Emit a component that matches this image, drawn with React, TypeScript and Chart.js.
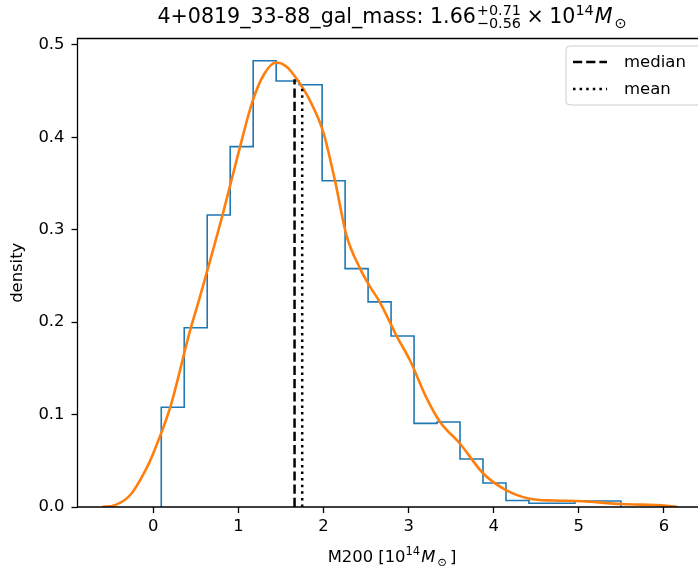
import React, { useEffect, useRef } from "react";
import { Chart, registerables } from "chart.js";
Chart.register(...registerables);

// ---- data ----
const binEdges = [0.094, 0.364, 0.634, 0.904, 1.174, 1.444, 1.714, 1.984, 2.254, 2.524, 2.794, 3.064, 3.334, 3.604, 3.874, 4.144, 4.414, 4.684, 4.954, 5.224, 5.494];
const binDensity = [0.108, 0.194, 0.316, 0.39, 0.483, 0.461, 0.457, 0.353, 0.258, 0.222, 0.185, 0.0905, 0.092, 0.052, 0.026, 0.007, 0.004, 0.004, 0.0065, 0.0065];
const kdeX = [-0.6, -0.45, -0.27, -0.09, 0.0, 0.2, 0.43, 0.55, 0.82, 1.02, 1.17, 1.3, 1.44, 1.56, 1.68, 1.84, 2.0, 2.14, 2.27, 2.43, 2.55, 2.66, 2.86, 3.02, 3.2, 3.37, 3.6, 3.88, 4.15, 4.42, 4.7, 4.98, 5.5, 6.03, 6.16];
const kdeY = [0.0, 0.002, 0.013, 0.04, 0.058, 0.108, 0.19, 0.228, 0.318, 0.39, 0.44, 0.468, 0.481, 0.477, 0.464, 0.44, 0.405, 0.351, 0.294, 0.258, 0.238, 0.222, 0.185, 0.158, 0.12, 0.092, 0.069, 0.036, 0.018, 0.009, 0.007, 0.0065, 0.0032, 0.0014, 0.0];
const medianValue = 1.66;
const medianTop = 0.463;
const meanValue = 1.75;
const meanTop = 0.457;
const xTicks = [0, 1, 2, 3, 4, 5, 6];
const yTicks = [0.0, 0.1, 0.2, 0.3, 0.4, 0.5];
const xRange = [-0.89, 6.4];
const yRange = [0, 0.507];
const legendLabels = ["median", "mean"];
const titleMain = "4+0819_33-88_gal_mass: 1.66";
const titleSup = "+0.71";
const titleSub = "\u22120.56";
const xLabel = ["M200 [10", "14", "M", "\u2299", "]"];
const yLabel = "density";

const FONT = '"DejaVu Sans"';
const BLUE = "#1f77b4";
const ORANGE = "#ff7f0e";

const histPoints: { x: number; y: number }[] = [{ x: binEdges[0], y: 0 }];
binDensity.forEach((d, i) => {
  histPoints.push({ x: binEdges[i], y: d }, { x: binEdges[i + 1], y: d });
});
histPoints.push({ x: binEdges[binEdges.length - 1], y: 0 });
const kdePoints = kdeX.map((x, i) => ({ x, y: kdeY[i] }));

const AXES_CENTER_X = 392;

const customPlugin = {
  id: "customDecor",
  afterDraw(chart: any) {
    const ctx: CanvasRenderingContext2D = chart.ctx;
    const a = chart.chartArea;
    ctx.save();
    // spines
    ctx.strokeStyle = "#000";
    ctx.lineWidth = 1.3;
    ctx.setLineDash([]);
    ctx.beginPath();
    ctx.moveTo(a.right + 5, a.top);
    ctx.lineTo(a.left, a.top);
    ctx.lineTo(a.left, a.bottom);
    ctx.lineTo(a.right + 5, a.bottom);
    ctx.stroke();

    // legend
    const lx = 566, ly = 46, lw = 140, lh = 59, r = 4;
    ctx.beginPath();
    ctx.moveTo(lx + r, ly);
    ctx.lineTo(lx + lw - r, ly);
    ctx.quadraticCurveTo(lx + lw, ly, lx + lw, ly + r);
    ctx.lineTo(lx + lw, ly + lh - r);
    ctx.quadraticCurveTo(lx + lw, ly + lh, lx + lw - r, ly + lh);
    ctx.lineTo(lx + r, ly + lh);
    ctx.quadraticCurveTo(lx, ly + lh, lx, ly + lh - r);
    ctx.lineTo(lx, ly + r);
    ctx.quadraticCurveTo(lx, ly, lx + r, ly);
    ctx.closePath();
    ctx.fillStyle = "rgba(255,255,255,0.8)";
    ctx.fill();
    ctx.strokeStyle = "#cccccc";
    ctx.lineWidth = 1;
    ctx.stroke();

    const rows = [62, 89];
    const dashes = [[9.2, 4], [2.5, 4.1]];
    rows.forEach((yy, i) => {
      ctx.strokeStyle = "#000";
      ctx.lineWidth = 2.5;
      ctx.setLineDash(dashes[i]);
      ctx.beginPath();
      ctx.moveTo(573, yy);
      ctx.lineTo(607, yy);
      ctx.stroke();
      ctx.setLineDash([]);
      ctx.fillStyle = "#000";
      ctx.font = `16.5px ${FONT}`;
      ctx.textAlign = "left";
      ctx.textBaseline = "middle";
      ctx.fillText(legendLabels[i], 624, yy + 1);
    });

    // title
    const F = 20.6, f = 14.4;
    const base = 23;
    ctx.textBaseline = "alphabetic";
    ctx.textAlign = "left";
    ctx.font = `${F}px ${FONT}`;
    const wMain = ctx.measureText(titleMain).width;
    ctx.font = `${f}px ${FONT}`;
    const wSS = Math.max(ctx.measureText(titleSup).width, ctx.measureText(titleSub).width);
    ctx.font = `${F}px ${FONT}`;
    const wTimes = ctx.measureText("\u00d7").width;
    const w10 = ctx.measureText("10").width;
    const gap = 5.5;
    ctx.font = `${f}px ${FONT}`;
    const w14 = ctx.measureText("14").width;
    ctx.font = `italic ${F}px ${FONT}`;
    const wM = ctx.measureText("M").width;
    ctx.font = `${f}px ${FONT}`;
    const wO = ctx.measureText("\u2299").width;
    const total = wMain + 1 + wSS + gap + wTimes + gap + w10 + w14 + 1 + wM + 2 + wO;
    let x = AXES_CENTER_X - total / 2;
    ctx.fillStyle = "#000";
    ctx.font = `${F}px ${FONT}`;
    ctx.fillText(titleMain, x, base);
    x += wMain + 1;
    ctx.font = `${f}px ${FONT}`;
    ctx.fillText(titleSup, x, base - 8);
    ctx.fillText(titleSub, x, base + 4.5);
    x += wSS + gap;
    ctx.font = `${F}px ${FONT}`;
    ctx.fillText("\u00d7", x, base);
    x += wTimes + gap;
    ctx.fillText("10", x, base);
    x += w10;
    ctx.font = `${f}px ${FONT}`;
    ctx.fillText("14", x, base - 8);
    x += w14 + 1;
    ctx.font = `italic ${F}px ${FONT}`;
    ctx.fillText("M", x, base);
    x += wM + 2;
    ctx.font = `${f}px ${FONT}`;
    ctx.fillText("\u2299", x, base + 4.5);

    // x label
    const XF = 16.4, xf = 11.5;
    const xb = 562;
    ctx.font = `${XF}px ${FONT}`;
    const w0 = ctx.measureText(xLabel[0]).width;
    ctx.font = `${xf}px ${FONT}`;
    const w1 = ctx.measureText(xLabel[1]).width;
    ctx.font = `italic ${XF}px ${FONT}`;
    const w2 = ctx.measureText(xLabel[2]).width;
    ctx.font = `${xf}px ${FONT}`;
    const w3 = ctx.measureText(xLabel[3]).width;
    ctx.font = `${XF}px ${FONT}`;
    const w4 = ctx.measureText(xLabel[4]).width;
    const xtot = w0 + w1 + 1 + w2 + 2 + w3 + 3 + w4;
    let xx = AXES_CENTER_X - xtot / 2;
    ctx.font = `${XF}px ${FONT}`;
    ctx.fillText(xLabel[0], xx, xb);
    xx += w0;
    ctx.font = `${xf}px ${FONT}`;
    ctx.fillText(xLabel[1], xx, xb - 7);
    xx += w1 + 1;
    ctx.font = `italic ${XF}px ${FONT}`;
    ctx.fillText(xLabel[2], xx, xb);
    xx += w2 + 2;
    ctx.font = `${xf}px ${FONT}`;
    ctx.fillText(xLabel[3], xx, xb + 4);
    xx += w3 + 3;
    ctx.font = `${XF}px ${FONT}`;
    ctx.fillText(xLabel[4], xx, xb);

    // y label
    ctx.save();
    ctx.translate(18, (a.top + a.bottom) / 2);
    ctx.rotate(-Math.PI / 2);
    ctx.font = `16.4px ${FONT}`;
    ctx.textAlign = "center";
    ctx.textBaseline = "middle";
    ctx.fillText(yLabel, 0, 0);
    ctx.restore();

    ctx.restore();
  },
};

export default function App() {
  const ref = useRef<HTMLCanvasElement | null>(null);
  useEffect(() => {
    if (!ref.current) return;
    const chart = new Chart(ref.current, {
      type: "scatter",
      data: {
        datasets: [
          {
            label: "median",
            data: [{ x: medianValue, y: 0 }, { x: medianValue, y: medianTop }],
            showLine: true,
            borderColor: "#000",
            borderWidth: 2.5,
            borderDash: [9.2, 4],
            pointRadius: 0,
            order: 0,
          },
          {
            label: "mean",
            data: [{ x: meanValue, y: 0 }, { x: meanValue, y: meanTop }],
            showLine: true,
            borderColor: "#000",
            borderWidth: 2.5,
            borderDash: [2.5, 4.1],
            pointRadius: 0,
            order: 0,
          },
          {
            label: "kde",
            data: kdePoints,
            showLine: true,
            borderColor: ORANGE,
            borderWidth: 2.6,
            pointRadius: 0,
            cubicInterpolationMode: "monotone",
            order: 1,
          },
          {
            label: "hist",
            data: histPoints,
            showLine: true,
            borderColor: BLUE,
            borderWidth: 1.6,
            pointRadius: 0,
            tension: 0,
            order: 2,
          },
        ],
      },
      options: {
        animation: false,
        responsive: false,
        devicePixelRatio: 1,
        layout: { padding: { top: 38.5, left: 0, right: 0, bottom: 0 } },
        plugins: {
          legend: { display: false },
          tooltip: { enabled: false },
          title: { display: false },
        },
        scales: {
          x: {
            type: "linear",
            min: xRange[0],
            max: xRange[1],
            afterBuildTicks: (s: any) => {
              s.ticks = xTicks.map((v) => ({ value: v }));
            },
            afterFit: (s: any) => {
              s.height = 64;
            },
            grid: { drawOnChartArea: false, drawTicks: true, tickLength: 6, tickColor: "#000", tickWidth: 1.3, color: "#000" },
            border: { display: false },
            ticks: {
              color: "#000",
              font: { family: "DejaVu Sans", size: 16.4 },
              padding: 4,
              maxRotation: 0,
              autoSkip: false,
              callback: (v: any) => String(v),
            },
          },
          y: {
            type: "linear",
            min: yRange[0],
            max: yRange[1],
            afterBuildTicks: (s: any) => {
              s.ticks = yTicks.map((v) => ({ value: v }));
            },
            afterFit: (s: any) => {
              s.width = 77.5;
            },
            grid: { drawOnChartArea: false, drawTicks: true, tickLength: 6, tickColor: "#000", tickWidth: 1.3, color: "#000" },
            border: { display: false },
            ticks: {
              color: "#000",
              font: { family: "DejaVu Sans", size: 16.4 },
              padding: 7,
              autoSkip: false,
              callback: (v: any) => Number(v).toFixed(1),
            },
          },
        },
      },
      plugins: [customPlugin],
    } as any);
    return () => chart.destroy();
  }, []);
  return (
    <div style={{ position: "fixed", left: 0, top: 0, width: 698, height: 571, overflow: "hidden", background: "#fff" }}>
      <canvas ref={ref} width={698} height={571} style={{ display: "block", width: 698, height: 571 }} />
    </div>
  );
}
